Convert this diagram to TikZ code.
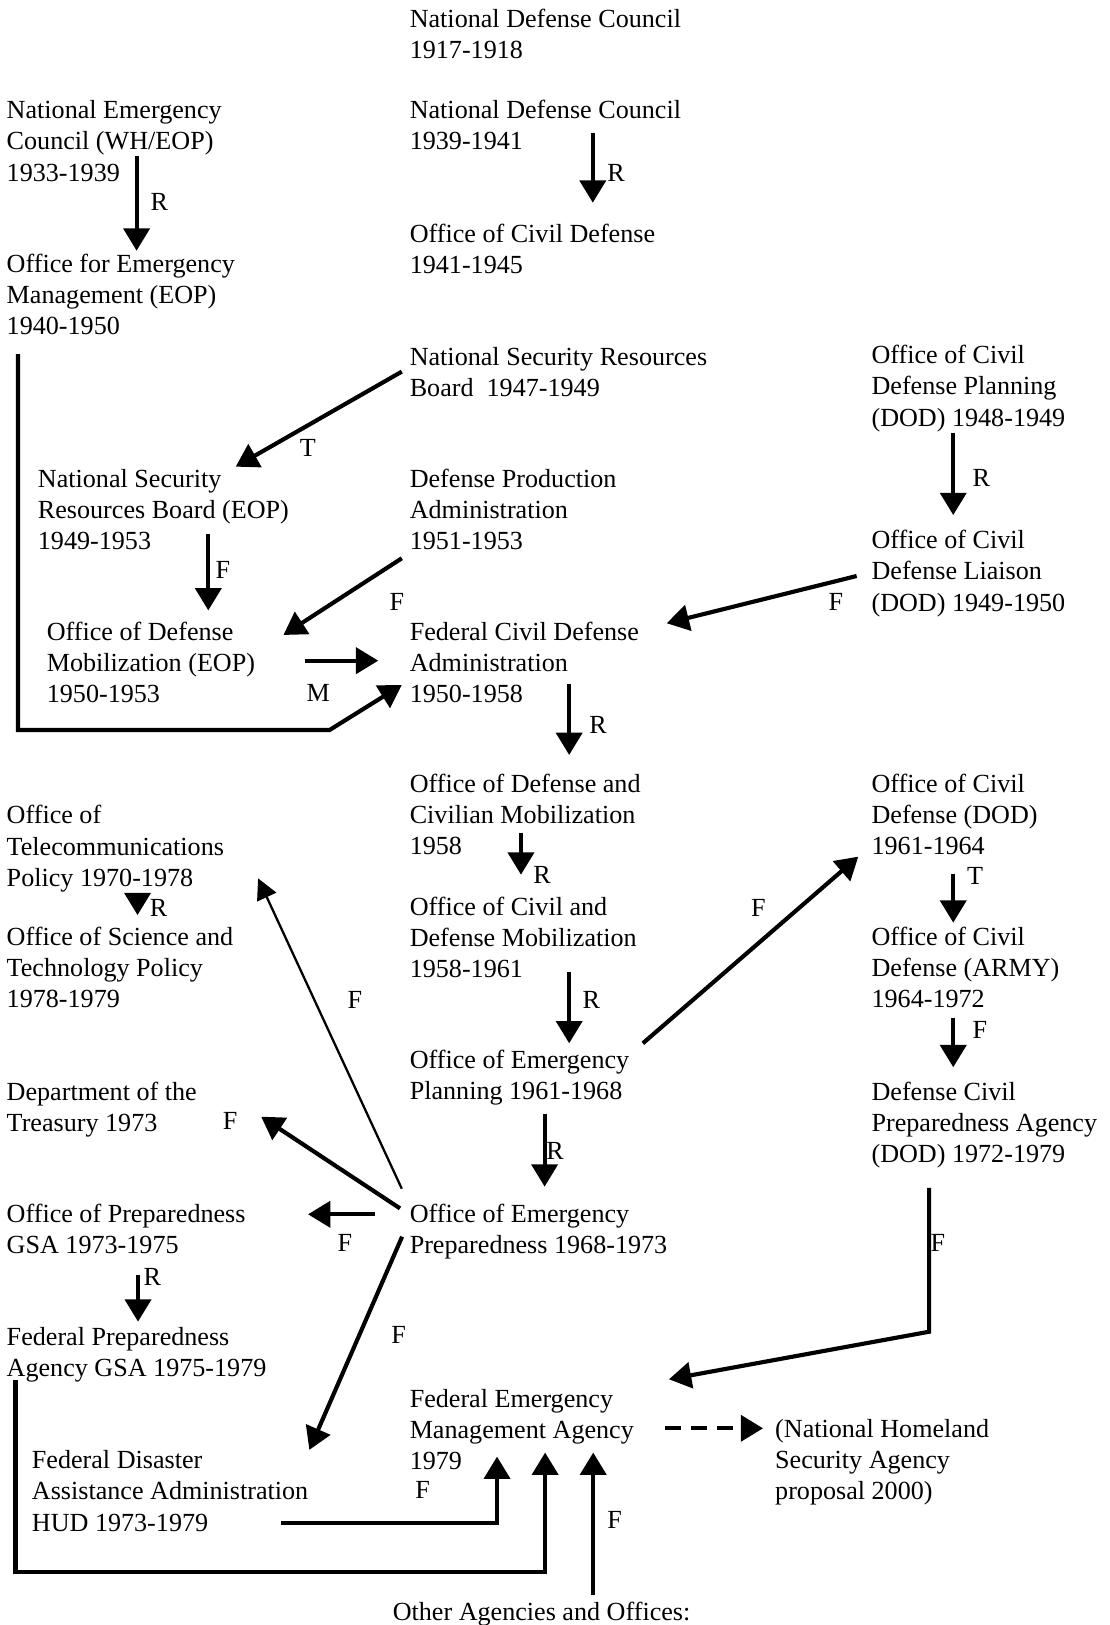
\documentclass[tikz,border=0pt]{standalone}
\usepackage{fontspec}
\setmainfont{Liberation Serif}
\usetikzlibrary{arrows.meta}
\begin{document}
\begin{tikzpicture}[x=1pt,y=-1pt,
  txt/.style={anchor=north west, inner sep=0pt, outer sep=0pt, align=left,
              font=\fontsize{25.2}{30}\selectfont, yshift=12.4pt},
  lab/.style={inner sep=0pt, outer sep=0pt, font=\fontsize{25.2}{30}\selectfont},
  conn/.style={line width=4pt, -{Triangle[length=21.5pt,width=25pt]}},
  thinconn/.style={line width=2.2pt, -{Triangle[length=20pt,width=20pt]}},
  dashconn/.style={conn, dash pattern=on 15pt off 10pt}]
\useasboundingbox (0,0) rectangle (1071,1568);

% ---------- text blocks ----------
\node[txt] (ndc1)    at (395.4,17.7)   {\strut National Defense Council\\1917-1918};
\node[txt] (nec)     at (6.5,106.1)    {\strut National Emergency\\Council (WH/EOP)\\1933-1939};
\node[txt] (ndc2)    at (395.4,106.1)  {\strut National Defense Council\\1939-1941};
\node[txt] (ocd)     at (395.4,225.1)  {\strut Office of Civil Defense\\1941-1945};
\node[txt] (oem)     at (6.5,254)      {\strut Office for Emergency\\Management (EOP)\\1940-1950};
\node[txt] (nsrb)    at (395.4,344.1)  {\strut National Security Resources\\Board\ \ 1947-1949};
\node[txt] (ocdp)    at (841,342.5)    {\strut Office of Civil\\Defense Planning\\(DOD) 1948-1949};
\node[txt] (nsrbeop) at (36.6,461.5)   {\strut National Security\\Resources Board (EOP)\\1949-1953};
\node[txt] (dpa)     at (395.4,461.5)  {\strut Defense Production\\Administration\\1951-1953};
\node[txt] (ocdl)    at (841,521)      {\strut Office of Civil\\Defense Liaison\\(DOD) 1949-1950};
\node[txt] (odm)     at (45.2,609.5)   {\strut Office of Defense\\Mobilization (EOP)\\1950-1953};
\node[txt] (fcda)    at (395.4,609.5)  {\strut Federal Civil Defense\\Administration\\1950-1958};
\node[txt] (odcm)    at (395.4,755.8)  {\strut Office of Defense and\\Civilian Mobilization\\1958};
\node[txt] (ocddod)  at (841,755.8)    {\strut Office of Civil\\Defense (DOD)\\1961-1964};
\node[txt] (otp)     at (6.5,786.4)    {\strut Office of\\Telecommunications\\Policy 1970-1978};
\node[txt] (ocdm)    at (395.4,874.8)  {\strut Office of Civil and\\Defense Mobilization\\1958-1961};
\node[txt] (ostp)    at (6.5,903.8)    {\strut Office of Science and\\Technology Policy\\1978-1979};
\node[txt] (ocdarmy) at (841,903.8)    {\strut Office of Civil\\Defense (ARMY)\\1964-1972};
\node[txt] (oeplan)  at (395.4,1022.8) {\strut Office of Emergency\\Planning 1961-1968};
\node[txt] (treas)   at (6.5,1053.3)   {\strut Department of the\\Treasury 1973};
\node[txt] (dcpa)    at (841,1053.3)   {\strut Defense Civil\\Preparedness Agency\\(DOD) 1972-1979};
\node[txt] (oprep)   at (6.5,1170.7)   {\strut Office of Preparedness\\GSA 1973-1975};
\node[txt] (oeprep)  at (395.4,1170.7) {\strut Office of Emergency\\Preparedness 1968-1973};
\node[txt] (fpa)     at (6.5,1289.7)   {\strut Federal Preparedness\\Agency GSA 1975-1979};
\node[txt] (fema)    at (395.4,1349.2) {\strut Federal Emergency\\Management Agency\\1979};
\node[txt] (nhsa)    at (748,1378.1)   {\strut (National Homeland\\Security Agency\\proposal 2000)};
\node[txt] (fdaa)    at (30.8,1408.7)  {\strut Federal Disaster\\Assistance Administration\\HUD 1973-1979};
\node[txt] (others)  at (379,1555)     {\strut Other Agencies and Offices:};

% ---------- connector end points ----------
\coordinate (nec-out)     at (131.8,150.5);
\coordinate (oem-in)      at (131.8,241.9);
\coordinate (ndc2-out)    at (572,128);
\coordinate (ocd-in)      at (572,195.6);
\coordinate (nsrb-out)    at (387.7,358.6);
\coordinate (nsrbeop-in)  at (227.4,450.3);
\coordinate (ocdp-out)    at (919.8,417.5);
\coordinate (ocdl-in)     at (919.8,497);
\coordinate (nsrbeop-out) at (201,515.5);
\coordinate (odm-in1)     at (201,589);
\coordinate (dpa-out)     at (387.7,538.7);
\coordinate (odm-in2)     at (273.5,612.7);
\coordinate (ocdl-out)    at (826.6,555.8);
\coordinate (fcda-in1)    at (643.3,601.4);
\coordinate (odm-out)     at (294,637.5);
\coordinate (fcda-in2)    at (365,637.5);
\coordinate (oem-out)     at (17.3,341.6);
\coordinate (oem-c1)      at (17.3,704.4);
\coordinate (oem-c2)      at (318,704.4);
\coordinate (fcda-in3)    at (387.7,661);
\coordinate (fcda-out)    at (549.2,660);
\coordinate (odcm-in)     at (549.2,728.5);
\coordinate (odcm-out)    at (502.7,803.4);
\coordinate (ocdm-in)     at (502.7,844);
\coordinate (ocdm-out)    at (549.2,938);
\coordinate (oeplan-in)   at (549.2,1006.7);
\coordinate (oeplan-out1) at (620.3,1006.7);
\coordinate (ocddod-in)   at (828.2,826.6);
\coordinate (ocddod-out)  at (919.8,843.6);
\coordinate (ocdarmy-in)  at (919.8,890.3);
\coordinate (ocdarmy-out) at (919.8,982.6);
\coordinate (dcpa-in)     at (919.8,1029.8);
\coordinate (otp-out)     at (132.7,861.5);
\coordinate (ostp-in)     at (132.7,883);
\coordinate (oeplan-out2) at (525.5,1075);
\coordinate (oeprep-in)   at (525.5,1145);
\coordinate (oeprep-o1)   at (387.7,1147);
\coordinate (otp-in)      at (249,847.5);
\coordinate (oeprep-o2)   at (386,1166);
\coordinate (treas-in)    at (252,1077.5);
\coordinate (oeprep-o3)   at (362,1171.7);
\coordinate (oprep-in)    at (297.2,1171.7);
\coordinate (oeprep-o4)   at (388,1193.3);
\coordinate (fdaa-in)     at (298.5,1399);
\coordinate (oprep-out)   at (133.2,1230);
\coordinate (fpa-in)      at (133.2,1275.3);
\coordinate (dcpa-out)    at (896.5,1146.3);
\coordinate (dcpa-c)      at (896.5,1285);
\coordinate (fema-in1)    at (645.5,1330.9);
\coordinate (fema-out)    at (642,1378.2);
\coordinate (nhsa-in)     at (736.3,1378.2);
\coordinate (fdaa-out)    at (271,1469.8);
\coordinate (fdaa-c)      at (479.6,1469.8);
\coordinate (fema-in2)    at (479.6,1405.5);
\coordinate (fpa-out)     at (15,1331.5);
\coordinate (fpa-c1)      at (15,1516.5);
\coordinate (fpa-c2)      at (526,1516.5);
\coordinate (fema-in3)    at (526,1401.6);
\coordinate (others-out)  at (572.4,1539);
\coordinate (fema-in4)    at (572.4,1401.6);

% ---------- connectors ----------
\draw[conn] (nec-out) -- (oem-in);
\draw[conn] (ndc2-out) -- (ocd-in);
\draw[conn] (nsrb-out) -- (nsrbeop-in);
\draw[conn] (ocdp-out) -- (ocdl-in);
\draw[conn] (nsrbeop-out) -- (odm-in1);
\draw[conn] (dpa-out) -- (odm-in2);
\draw[conn] (ocdl-out) -- (fcda-in1);
\draw[conn] (odm-out) -- (fcda-in2);
\draw[conn] (oem-out) -- (oem-c1) -- (oem-c2) -- (fcda-in3);
\draw[conn] (fcda-out) -- (odcm-in);
\draw[conn] (odcm-out) -- (ocdm-in);
\draw[conn] (ocdm-out) -- (oeplan-in);
\draw[conn] (oeplan-out1) -- (ocddod-in);
\draw[conn] (ocddod-out) -- (ocdarmy-in);
\draw[conn] (ocdarmy-out) -- (dcpa-in);
\draw[conn] (otp-out) -- (ostp-in);
\draw[conn] (oeplan-out2) -- (oeprep-in);
\draw[thinconn] (oeprep-o1) -- (otp-in);
\draw[conn] (oeprep-o2) -- (treas-in);
\draw[conn] (oeprep-o3) -- (oprep-in);
\draw[conn] (oeprep-o4) -- (fdaa-in);
\draw[conn] (oprep-out) -- (fpa-in);
\draw[conn] (dcpa-out) -- (dcpa-c) -- (fema-in1);
\draw[dashconn] (fema-out) -- (nhsa-in);
\draw[conn] (fdaa-out) -- (fdaa-c) -- (fema-in2);
\draw[conn] (fpa-out) -- (fpa-c1) -- (fpa-c2) -- (fema-in3);
\draw[conn] (others-out) -- (fema-in4);

% ---------- connector labels ----------
\node[lab] (l1)  at (153.8,194.6) {R};
\node[lab] (l2)  at (594.4,166.6) {R};
\node[lab] (l3)  at (297,432)     {T};
\node[lab] (l4)  at (947,461.5)   {R};
\node[lab] (l5)  at (215,550)     {F};
\node[lab] (l6)  at (383,580.5)   {F};
\node[lab] (l7)  at (806.6,580.5) {F};
\node[lab] (l8)  at (307,669)     {M};
\node[lab] (l9)  at (577,699.5)   {R};
\node[lab] (l10) at (523,844)     {R};
\node[lab] (l11) at (940.8,845.2) {T};
\node[lab] (l12) at (153,876)     {R};
\node[lab] (l13) at (731.7,876.4) {F};
\node[lab] (l14) at (342.5,965)   {F};
\node[lab] (l15) at (570.7,965)   {R};
\node[lab] (l16) at (945.6,993.8) {F};
\node[lab] (l17) at (222,1082)    {F};
\node[lab] (l18) at (535.5,1111)  {R};
\node[lab] (l19) at (332.7,1199.6) {F};
\node[lab] (l20) at (905,1199.6)  {F};
\node[lab] (l21) at (146.9,1231.8) {R};
\node[lab] (l22) at (384.6,1288)  {F};
\node[lab] (l23) at (407.8,1437.7) {F};
\node[lab] (l24) at (593,1466.7)  {F};
\end{tikzpicture}
\end{document}
